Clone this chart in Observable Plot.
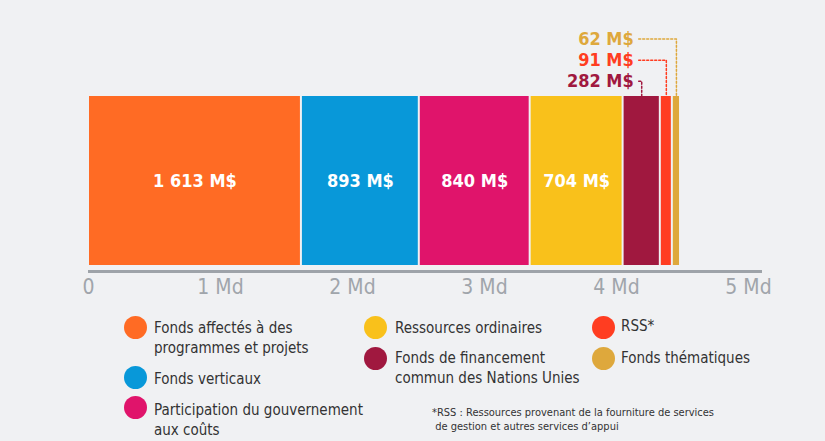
<!DOCTYPE html>
<html><head><meta charset="utf-8">
<script src="https://cdn.jsdelivr.net/npm/d3@7"></script>
<script src="https://cdn.jsdelivr.net/npm/@observablehq/plot@0.6"></script>
<style>
body{margin:0;background:#f0f1f3;}
#wrap{position:relative;width:825px;height:441px;overflow:hidden;font-family:"Liberation Sans Narrow","DejaVu Sans Condensed",sans-serif;}
#wrap svg{position:absolute;left:0;top:0;background:transparent;}
.lab{position:absolute;font-size:15px;color:#333;line-height:20px;white-space:nowrap;}
.dot{position:absolute;width:23px;height:23px;border-radius:50%;}
.note{position:absolute;font-size:11px;color:#333;line-height:14px;white-space:nowrap;}
</style></head><body><div id="wrap"></div>
<script>
const categories = ["Fonds affectés à des programmes et projets","Fonds verticaux","Participation du gouvernement aux coûts","Ressources ordinaires","Fonds de financement commun des Nations Unies","RSS*","Fonds thématiques"];
const values = [1613, 893, 840, 704, 282, 91, 62];
const colors = ["#ff6b24","#0898d9","#e0146b","#f9c11b","#a0183f","#ff3d21","#dea83c"];
const tickValues = [0, 1000, 2000, 3000, 4000, 5000];
const tickLabels = ["0", "1 Md", "2 Md", "3 Md", "4 Md", "5 Md"];
const legendLines = [["Fonds affectés à des","programmes et projets"],["Fonds verticaux"],["Participation du gouvernement","aux coûts"],["Ressources ordinaires"],["Fonds de financement","commun des Nations Unies"],["RSS*"],["Fonds thématiques"]];
const footnote = ["*RSS : Ressources provenant de la fourniture de services", " de gestion et autres services d’appui"];

const fr = d3.formatLocale({decimal: ",", thousands: " ", grouping: [3], currency: ["", " M$"]});
const fmt = d => fr.format(",")(d) + " M$";

let acc = 0;
const rows = values.map((v, i) => {
  const r = {cat: categories[i], value: v, color: colors[i], x1: acc, x2: acc + v, mid: acc + v / 2, i};
  acc += v; return r;
});
const big = rows.filter(r => r.i < 4);
const small = rows.filter(r => r.i >= 4);

const x0 = 88, x5 = 748;
const pxToData = p => p * 5000 / (x5 - x0);
const anchorX = small[0].mid;
const level = k => 1.09 + 0.125 * k;
const ann = small.map((r, k) => ({...r, lv: level(k)}));
const lines = ann.flatMap(r => [
  {i: r.i, color: r.color, x: anchorX - pxToData(3), y: r.lv},
  {i: r.i, color: r.color, x: r.mid, y: r.lv},
  {i: r.i, color: r.color, x: r.mid, y: 1}
]);

const font = '"Liberation Sans Narrow","DejaVu Sans Condensed",sans-serif';
const chart = Plot.plot({
  width: 825, height: 300,
  marginLeft: x0, marginRight: 825 - 762, marginTop: 96, marginBottom: 35,
  style: {fontFamily: font, background: "transparent", overflow: "visible"},
  x: {domain: [0, 5000], range: [x0, x5]},
  y: {domain: [0, 1], axis: null},
  color: {type: "identity"},
  marks: [
    Plot.rectX(rows, {x1: "x1", x2: "x2", y1: 0, y2: 1, fill: "color", insetLeft: 1, insetRight: 1}),
    Plot.text(big, {x: "mid", y: 0.5, text: d => fmt(d.value), fill: "white", fontWeight: "bold", fontSize: 18}),
    Plot.line(lines, {x: "x", y: "y", z: "i", stroke: "color", strokeWidth: 1.5, strokeDasharray: "2,2", curve: "linear"}),
    Plot.text(ann, {x: anchorX, y: "lv", text: d => fmt(d.value), fill: "color", fontWeight: "bold", fontSize: 18, textAnchor: "end", dx: -8}),
    Plot.ruleY([0], {dy: 6, stroke: "#9ea3a9", strokeWidth: 3}),
    Plot.axisX({ticks: tickValues, tickFormat: d => tickLabels[tickValues.indexOf(d)], tickSize: 0, tickPadding: 14, fontSize: 21, fill: "#a0a5ab", fontFamily: font})
  ]
});
const wrap = document.getElementById("wrap");
wrap.appendChild(chart);

const layout = [
  {dx: 135, dy: 327, tx: 154, ty: 318},
  {dx: 135, dy: 377, tx: 154, ty: 369},
  {dx: 135, dy: 407, tx: 154, ty: 400},
  {dx: 375, dy: 327, tx: 395, ty: 318},
  {dx: 375, dy: 358, tx: 395, ty: 348},
  {dx: 603, dy: 327, tx: 621, ty: 316},
  {dx: 603, dy: 358, tx: 621, ty: 348}
];
legendLines.forEach((ls, i) => {
  const L = layout[i];
  const d = document.createElement("div");
  d.className = "dot"; d.style.background = colors[i];
  d.style.left = (L.dx - 11.5) + "px"; d.style.top = (L.dy - 11.5) + "px";
  wrap.appendChild(d);
  const t = document.createElement("div");
  t.className = "lab"; t.style.left = L.tx + "px"; t.style.top = L.ty + "px";
  t.innerHTML = ls.join("<br>");
  wrap.appendChild(t);
});
const n = document.createElement("div");
n.className = "note"; n.style.left = "432px"; n.style.top = "406px";
n.innerHTML = footnote.map(s => s.replace(/^ /, "&nbsp;")).join("<br>");
wrap.appendChild(n);
</script></body></html>
